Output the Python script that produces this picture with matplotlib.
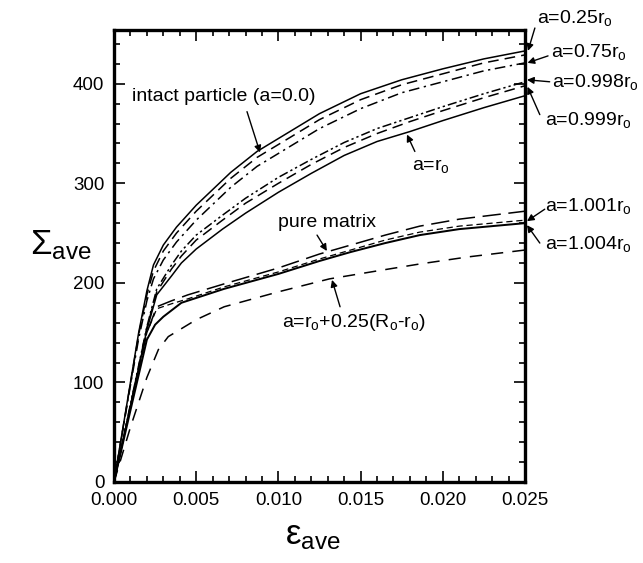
import matplotlib

matplotlib.use("Agg")

import matplotlib.pyplot as plt
from matplotlib.ticker import MultipleLocator

plt.rcParams["font.family"] = ["Liberation Sans", "DejaVu Sans"]
plt.rcParams["mathtext.fontset"] = "custom"
plt.rcParams["mathtext.rm"] = "Liberation Sans"
plt.rcParams["mathtext.it"] = "Liberation Sans:italic"

# strain values (eps_ave) and stress values (Sigma_ave)
eps_top = [0.0, 0.0010, 0.0015, 0.0020, 0.0024, 0.0030, 0.0038, 0.0050, 0.0071, 0.0087, 0.0100, 0.0125, 0.0150, 0.0175, 0.0200, 0.0225, 0.0250]
intact = [0, 100, 150, 192, 218, 238, 256, 278, 311, 332, 345, 370, 390, 404, 415, 425, 433]
a_025 = [0, 99, 148, 188, 212, 232, 250, 272, 305, 326, 339, 364, 384, 399, 410, 421, 429]
a_075 = [0, 97, 144, 182, 204, 223, 241, 263, 296, 317, 330, 355, 375, 391, 402, 413, 421]

eps_mid = [0.0, 0.0010, 0.0020, 0.0026, 0.0035, 0.0041, 0.0050, 0.0066, 0.0080, 0.0100, 0.0120, 0.0140, 0.0160, 0.0180, 0.0200, 0.0225, 0.0250]
a_0998 = [0, 78, 156, 194, 218, 232, 248, 268, 285, 306, 324, 341, 355, 366, 377, 390, 402]
a_0999 = [0, 77, 155, 191, 214, 227, 243, 263, 280, 300, 319, 336, 350, 362, 373, 386, 398]
a_r0 = [0, 76, 153, 188, 207, 220, 234, 254, 270, 291, 310, 328, 342, 352, 363, 376, 388]

eps_low = [0.0, 0.0010, 0.0020, 0.0026, 0.0035, 0.0045, 0.0067, 0.0100, 0.0125, 0.0144, 0.0165, 0.0186, 0.0210, 0.0250]
a_1001 = [0, 76, 150, 176, 182, 188, 199, 215, 229, 238, 248, 257, 264, 272]
pure_matrix = [0, 76, 150, 174, 179, 184, 196, 211, 224, 233, 243, 251, 257, 263]

eps_1004 = [0.0, 0.0010, 0.0020, 0.0025, 0.0030, 0.0041, 0.0067, 0.0100, 0.0125, 0.0144, 0.0165, 0.0186, 0.0210, 0.0250]
a_1004 = [0, 72, 143, 158, 166, 180, 194, 209, 222, 231, 240, 248, 254, 260]

eps_quarter = [0.0, 0.0010, 0.0020, 0.0027, 0.0033, 0.0040, 0.0050, 0.0067, 0.0100, 0.0131, 0.0160, 0.0186, 0.0215, 0.0250]
a_quarter = [0, 55, 105, 133, 146, 153, 163, 176, 191, 204, 212, 219, 226, 233]

fig = plt.figure(figsize=(6.43, 5.63), dpi=100)
ax = fig.add_axes([0.1773, 0.1439, 0.6392, 0.8028])

lw = 1.1
ax.plot(eps_top, intact, color="black", lw=lw)
ax.plot(eps_top, a_025, color="black", lw=lw, dashes=(7, 4))
ax.plot(eps_top, a_075, color="black", lw=lw, dashes=(7, 3, 1.5, 3))
ax.plot(eps_mid, a_0998, color="black", lw=lw, dashes=(6, 2, 1.5, 2, 1.5, 2))
ax.plot(eps_mid, a_0999, color="black", lw=lw, dashes=(7, 4))
ax.plot(eps_mid, a_r0, color="black", lw=lw)
ax.plot(eps_low, a_1001, color="black", lw=lw, dashes=(12, 5))
ax.plot(eps_low, pure_matrix, color="black", lw=0.9, dashes=(5, 3))
ax.plot(eps_1004, a_1004, color="black", lw=lw * 1.3)
ax.plot(eps_quarter, a_quarter, color="black", lw=lw, dashes=(8, 6))

ax.set_xlim(0, 0.025)
ax.set_ylim(0, 454)
ax.xaxis.set_major_locator(MultipleLocator(0.005))
ax.xaxis.set_minor_locator(MultipleLocator(0.001))
ax.yaxis.set_major_locator(MultipleLocator(100))
ax.yaxis.set_minor_locator(MultipleLocator(20))
ax.set_xticklabels([f"{v:.3f}" for v in ax.get_xticks()])
ax.tick_params(which="both", direction="in", top=True, right=True, width=1.2, labelsize=13.5)
ax.tick_params(which="major", length=8, pad=7)
ax.tick_params(which="minor", length=4.5)
for side in ax.spines.values():
    side.set_linewidth(2.4)

fig.text(0.094, 0.565, r"$\mathregular{\Sigma_{ave}}$", fontsize=25, ha="center", va="center")
fig.text(0.487, 0.048, r"$\mathregular{ε_{ave}}$", fontsize=25, ha="center", va="center")

arrow = dict(arrowstyle="-|>", color="black", lw=1.0, mutation_scale=10, shrinkA=0, shrinkB=0)
fs = 14
ax.text(0.0011, 387, "intact particle (a=0.0)", fontsize=fs, va="center", ha="left")
ax.annotate("", xy=(0.00888, 331), xytext=(0.00809, 372), arrowprops=arrow)
ax.text(0.00998, 261, "pure matrix", fontsize=fs, va="center", ha="left")
ax.annotate("", xy=(0.01295, 232), xytext=(0.01235, 248), arrowprops=arrow)
ax.text(0.0102, 160, r"a=r$_\mathregular{o}$+0.25(R$_\mathregular{o}$-r$_\mathregular{o}$)", fontsize=fs, va="center", ha="left")
ax.annotate("", xy=(0.01326, 203), xytext=(0.01375, 176), arrowprops=arrow)
ax.text(0.0193, 317, r"a=r$_\mathregular{o}$", fontsize=fs, va="center", ha="center")
ax.annotate("", xy=(0.01782, 349), xytext=(0.0183, 332), arrowprops=arrow)

right_labels = [
    (r"a=0.25r$_\mathregular{o}$", (0.02518, 433), (0.0256, 456), (0.0257, 466)),
    (r"a=0.75r$_\mathregular{o}$", (0.02515, 421), (0.0264, 428), (0.0266, 432)),
    (r"a=0.998r$_\mathregular{o}$", (0.02512, 404), (0.0265, 402), (0.02665, 402)),
    (r"a=0.999r$_\mathregular{o}$", (0.02515, 397), (0.0259, 369), (0.0262, 364)),
    (r"a=1.001r$_\mathregular{o}$", (0.02512, 262), (0.0262, 274), (0.0262, 277)),
    (r"a=1.004r$_\mathregular{o}$", (0.02512, 258), (0.0259, 240), (0.0262, 239)),
]
for label, head, tail, pos in right_labels:
    ax.annotate("", xy=head, xytext=tail, arrowprops=arrow, annotation_clip=False)
    ax.text(pos[0], pos[1], label, fontsize=fs, va="center", ha="left", clip_on=False)

fig.savefig("out.png", dpi=100)
